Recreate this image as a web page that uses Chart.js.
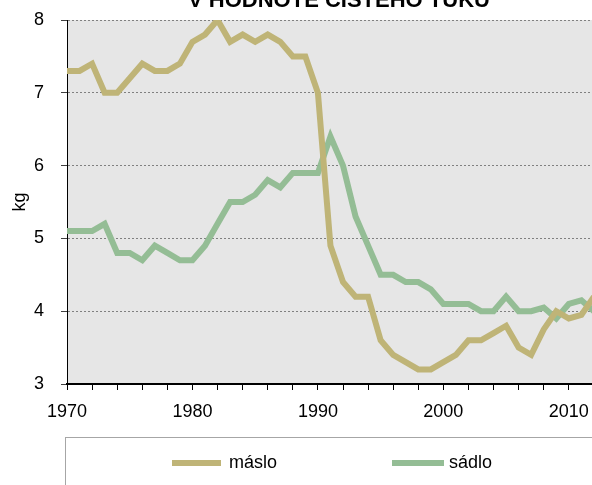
<!DOCTYPE html>
<html><head><meta charset="utf-8">
<script src="https://cdn.jsdelivr.net/npm/chart.js@4/dist/chart.umd.min.js"></script>
<style>
html,body{margin:0;padding:0;background:#fff;overflow:hidden;width:592px;height:485px}
#wrap{position:absolute;left:0;top:0;width:665px;height:485px}
canvas{display:block}
</style>
</head><body><div id="wrap"><canvas id="c" width="665" height="485"></canvas></div>
<script>
const chartTitle = 'V HODNOTĚ ČISTÉHO TUKU';
const yAxisTitle = 'kg';
const years = [1970,1971,1972,1973,1974,1975,1976,1977,1978,1979,
               1980,1981,1982,1983,1984,1985,1986,1987,1988,1989,
               1990,1991,1992,1993,1994,1995,1996,1997,1998,1999,
               2000,2001,2002,2003,2004,2005,2006,2007,2008,2009,
               2010,2011,2012];
const maslo = [7.3,7.3,7.4,7.0,7.0,7.2,7.4,7.3,7.3,7.4,
               7.7,7.8,8.0,7.7,7.8,7.7,7.8,7.7,7.5,7.5,
               7.0,4.9,4.4,4.2,4.2,3.6,3.4,3.3,3.2,3.2,
               3.3,3.4,3.6,3.6,3.7,3.8,3.5,3.4,3.75,4.0,
               3.9,3.95,4.2];
const sadlo = [5.1,5.1,5.1,5.2,4.8,4.8,4.7,4.9,4.8,4.7,
               4.7,4.9,5.2,5.5,5.5,5.6,5.8,5.7,5.9,5.9,
               5.9,6.4,6.0,5.3,4.9,4.5,4.5,4.4,4.4,4.3,
               4.1,4.1,4.1,4.0,4.0,4.2,4.0,4.0,4.05,3.9,
               4.1,4.15,4.0];
const seriesNames = ['máslo','sádlo'];
const seriesColors = ['#bfb477','#94bd95'];
const yTickValues = [3,4,5,6,7,8];

const FONT = "'Liberation Sans', Arial, sans-serif";

const pts = arr => years.map((y,i)=>({x:y,y:arr[i]}));

const bgPlugin = {
  id:'bg',
  beforeDraw(chart){
    const {ctx, chartArea:a} = chart;
    ctx.save(); ctx.fillStyle='#e6e6e6';
    ctx.fillRect(a.left,a.top,a.right-a.left,a.bottom-a.top);
    ctx.restore();
  }
};
const titlePlugin = {
  id:'ttl',
  afterDraw(chart){
    const ctx = chart.ctx;
    ctx.save();
    ctx.font = "bold 22px " + FONT;
    ctx.fillStyle='#000'; ctx.textAlign='center'; ctx.textBaseline='alphabetic';
    ctx.fillText(chartTitle, 339, 7);
    ctx.restore();
  }
};
const legendPlugin = {
  id:'lg',
  afterDraw(chart){
    const ctx = chart.ctx;
    ctx.save();
    ctx.strokeStyle='#a6a6a6'; ctx.lineWidth=1;
    ctx.strokeRect(65.5,437.5,535,120);
    const items = [{x1:172,x2:221,tx:229},{x1:392,x2:444,tx:449}];
    const ly = 463;
    chart.data.datasets.forEach((ds,i)=>{
      const it = items[i];
      ctx.strokeStyle = ds.borderColor; ctx.lineWidth = ds.borderWidth;
      ctx.beginPath(); ctx.moveTo(it.x1,ly); ctx.lineTo(it.x2,ly); ctx.stroke();
      ctx.fillStyle='#000'; ctx.font = "18px " + FONT;
      ctx.textAlign='left'; ctx.textBaseline='middle';
      ctx.fillText(ds.label, it.tx, ly);
    });
    ctx.restore();
  }
};

new Chart(document.getElementById('c'), {
  type:'line',
  data:{
    datasets:[
      {label:seriesNames[0], data:pts(maslo), borderColor:seriesColors[0], backgroundColor:seriesColors[0],
       borderWidth:6, pointRadius:0, tension:0, fill:false},
      {label:seriesNames[1], data:pts(sadlo), borderColor:seriesColors[1], backgroundColor:seriesColors[1],
       borderWidth:6, pointRadius:0, tension:0, fill:false}
    ]
  },
  options:{
    responsive:false, animation:false, devicePixelRatio:1,
    layout:{padding:{top:20,right:46,left:0,bottom:0}},
    plugins:{legend:{display:false}, title:{display:false}, tooltip:{enabled:false}},
    scales:{
      x:{type:'linear', min:1970, max:2014,
         ticks:{stepSize:2, autoSkip:false, maxRotation:0, padding:11, color:'#000',
                font:{size:18, family:FONT},
                callback:v => (v % 10 === 0 ? String(v) : '')},
         grid:{drawOnChartArea:false, drawTicks:true, tickLength:6, tickColor:'#000', tickWidth:1},
         border:{display:true, color:'#000', width:2},
         afterFit(s){ s.height = 101; s.paddingLeft = 0; s.paddingRight = 0; }
      },
      y:{min:3, max:8,
         afterBuildTicks(s){ s.ticks = yTickValues.map(v=>({value:v})); },
         ticks:{padding:17, color:'#000', font:{size:18, family:FONT}},
         grid:{color:'#808080', lineWidth:1, tickLength:6, tickColor:'#404040', tickWidth:1, tickBorderDash:[]},
         border:{display:true, color:'#000', width:1, dash:[2,2]},
         title:{display:true, text:yAxisTitle, color:'#000', font:{size:18, family:FONT}, padding:{top:9,bottom:0}},
         afterFit(s){ s.width = 67; s.paddingTop = 0; s.paddingBottom = 0; }
      }
    }
  },
  plugins:[bgPlugin, titlePlugin, legendPlugin]
});
</script>
</body></html>
